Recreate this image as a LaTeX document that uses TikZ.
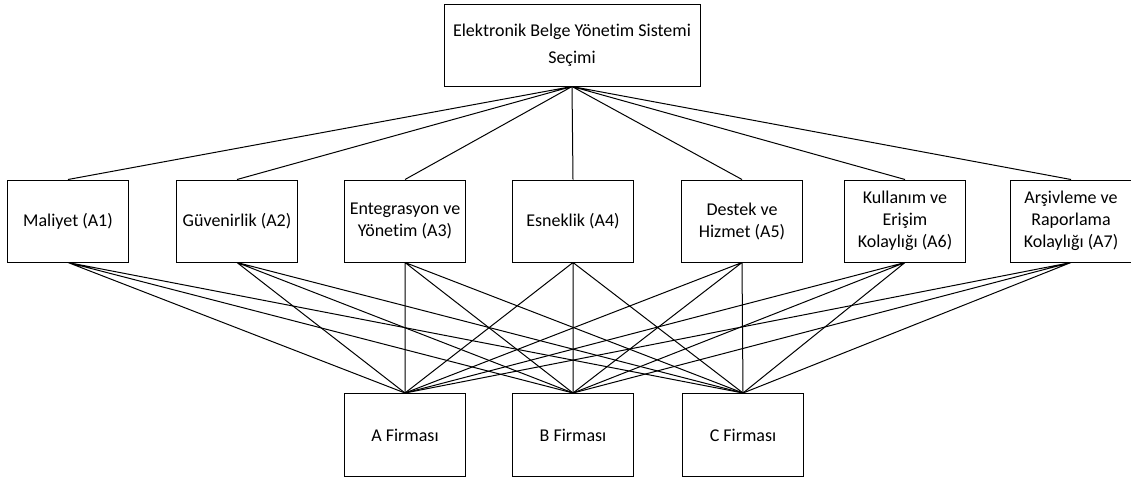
\documentclass[tikz,border=0pt]{standalone}
\usepackage{fontspec}
\setmainfont{Carlito}[Ligatures={NoCommon}]
\begin{document}
\begin{tikzpicture}[x=0.75pt,y=-0.75pt,every node/.style={font=\fontsize{13.5}{16.5}\selectfont},line width=0.75pt]
\tikzset{box/.style={draw,align=center,minimum width=121*0.75pt,minimum height=82*0.75pt,inner sep=2pt}, goalbox/.style={box,minimum width=256*0.75pt,minimum height=82*0.75pt,font=\fontsize{13.5}{20}\selectfont}}
\useasboundingbox (0,0) rectangle (1131,480);
% goal
\node[goalbox] (goal) at (572,45) {Elektronik Belge Yönetim Sistemi\\Seçimi};
% criteria
\node[box] (a1) at (68,221) {Maliyet (A1)};
\node[box] (a2) at (237,221) {Güvenirlik (A2)};
\node[box] (a3) at (405,221) {Entegrasyon ve\\Yönetim (A3)};
\node[box] (a4) at (573,221) {Esneklik (A4)};
\node[box] (a5) at (742,221) {Destek ve\\Hizmet (A5)};
\node[box] (a6) at (905,221) {Kullanım ve\\Erişim\\Kolaylığı (A6)};
\node[box] (a7) at (1071,221) {Arşivleme ve\\Raporlama\\Kolaylığı (A7)};
% alternatives
\node[box,minimum height=83*0.75pt] (fa) at (405,435) {A Firması};
\node[box,minimum height=83*0.75pt] (fb) at (573,435) {B Firması};
\node[box,minimum height=83*0.75pt] (fc) at (743,435) {C Firması};
\draw (goal.south) -- (a1.north) (goal.south) -- (a2.north) (goal.south) -- (a3.north) (goal.south) -- (a4.north);
\draw (goal.south) -- (a5.north) (goal.south) -- (a6.north) (goal.south) -- (a7.north);
\draw (a1.south) -- (fa.north) (a1.south) -- (fb.north) (a1.south) -- (fc.north);
\draw (a2.south) -- (fa.north) (a2.south) -- (fb.north) (a2.south) -- (fc.north);
\draw (a3.south) -- (fa.north) (a3.south) -- (fb.north) (a3.south) -- (fc.north);
\draw (a4.south) -- (fa.north) (a4.south) -- (fb.north) (a4.south) -- (fc.north);
\draw (a5.south) -- (fa.north) (a5.south) -- (fb.north) (a5.south) -- (fc.north);
\draw (a6.south) -- (fa.north) (a6.south) -- (fb.north) (a6.south) -- (fc.north);
\draw (a7.south) -- (fa.north) (a7.south) -- (fb.north) (a7.south) -- (fc.north);
\end{tikzpicture}
\end{document}
